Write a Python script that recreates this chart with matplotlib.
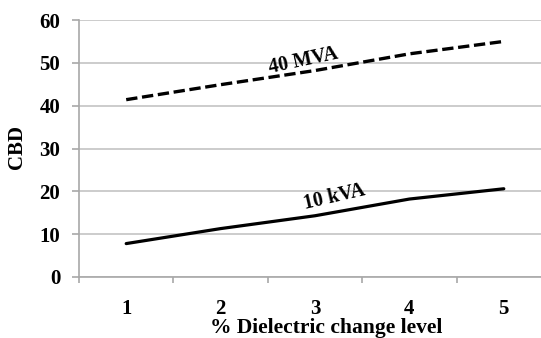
import matplotlib
matplotlib.use("Agg")
import matplotlib.pyplot as plt
from matplotlib.ticker import FixedLocator

# CBD versus dielectric change level for two transformer ratings
levels = [1, 2, 3, 4, 5]
cbd_40mva = [41.4, 44.9, 48.2, 52.1, 55.0]
cbd_10kva = [7.8, 11.3, 14.3, 18.2, 20.6]
yticks = [0, 10, 20, 30, 40, 50, 60]

plt.rcParams['font.family'] = ['Liberation Serif', 'DejaVu Serif']
plt.rcParams['font.weight'] = 'bold'

fig = plt.figure(figsize=(5.41, 3.38), dpi=100)
ax = fig.add_axes([79 / 541, 61 / 338, 472 / 541, 257 / 338])

ax.plot(levels, cbd_40mva, color='black', lw=2.4, linestyle=(0, (3.4, 1.4)),
        solid_capstyle='butt')
ax.plot(levels, cbd_10kva, color='black', lw=2.3, solid_capstyle='round')

ax.set_xlim(0.5, 5.5)
ax.set_ylim(0, 60)
ax.set_yticks(yticks)
ax.set_xticks(levels)
ax.xaxis.set_minor_locator(FixedLocator([0.5, 1.5, 2.5, 3.5, 4.5, 5.5]))

grid_c = '#c4c4c4'
spine_c = '#a8a8a8'
ax.yaxis.grid(True, color=grid_c, lw=1.2)
ax.set_axisbelow(True)
for side in ('top', 'right'):
    ax.spines[side].set_visible(False)
for side in ('left', 'bottom'):
    ax.spines[side].set_color(spine_c)
    ax.spines[side].set_linewidth(1.2)

ax.tick_params(axis='y', length=5, width=1.2, color=spine_c, pad=8.5,
               labelsize=15)
ax.tick_params(axis='x', which='major', length=0, pad=16, labelsize=15)
ax.tick_params(axis='x', which='minor', length=4.5, width=1.2, color=spine_c)
for lab in ax.get_xticklabels() + ax.get_yticklabels():
    lab.set_fontweight('bold')

ax.set_xlabel('% Dielectric change level', fontsize=15.5, fontweight='bold')
ax.xaxis.set_label_coords(0.523, -0.16)
ax.set_ylabel('CBD', fontsize=15, fontweight='bold')
ax.yaxis.set_label_coords(-0.110, 0.504)

ax.text(2.88, 50.5, '40 MVA', rotation=12, fontsize=14.5, fontweight='bold',
        ha='center', va='center')
ax.text(3.21, 18.7, '10 kVA', rotation=13, fontsize=14.5, fontweight='bold',
        ha='center', va='center')

fig.savefig('out.png', dpi=100)
